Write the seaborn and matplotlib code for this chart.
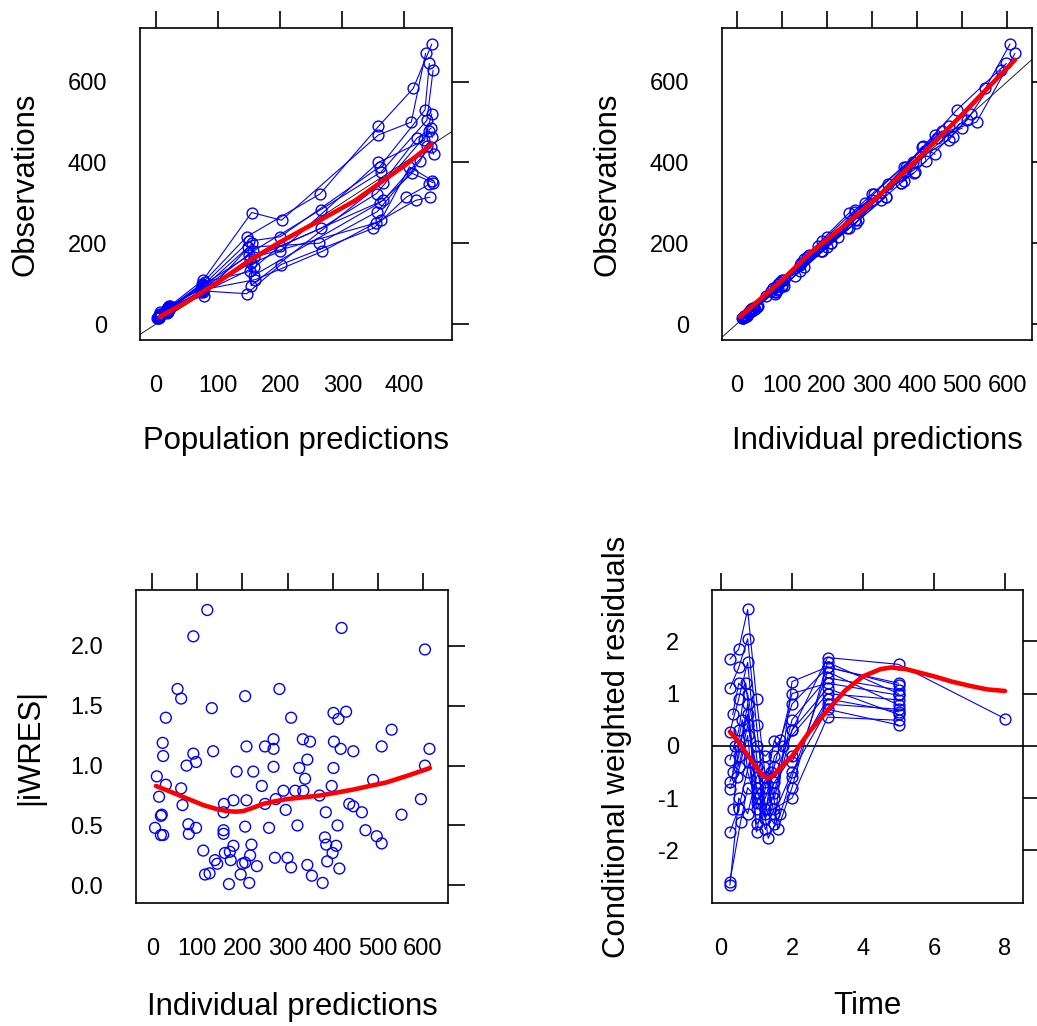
import numpy as np
import pandas as pd
import matplotlib
matplotlib.use("Agg")
import matplotlib.pyplot as plt
import seaborn as sns

# ---------------- data ----------------
# Panel 1 / 2 : per-subject population predictions, observations, individual predictions
PRED = [
    [3, 17, 74, 146, 264, 358, 414, 444],
    [5, 20, 76, 154, 202, 358, 411, 434],
    [4, 22, 75, 150, 200, 360, 433, 440],
    [6, 19, 77, 156, 265, 362, 436, 446],
    [2, 21, 73, 152, 266, 355, 440, 445],
    [5, 18, 75, 158, 199, 366, 442, 447],
    [7, 23, 78, 148, 263, 356, 425, 437],
    [4, 20, 76, 160, 268, 362, 408, 445],
    [6, 18, 74, 146, 201, 350, 403, 440],
    [5, 19, 75, 150, 157, 360, 412, 446],
    [3, 22, 77, 155, 153, 365, 420, 443],
    [8, 21, 72, 153, 200, 358, 432, 444],
    [4, 16, 79, 151, 157, 354, 418, 441],
]
DV = [
    [16, 36, 100, 216, 322, 489, 583, 693],
    [22, 42, 109, 276, 257, 468, 500, 670],
    [18, 40, 95, 205, 216, 389, 530, 645],
    [24, 30, 88, 180, 283, 376, 504, 628],
    [14, 38, 80, 160, 237, 323, 478, 462],
    [20, 28, 78, 140, 192, 306, 438, 420],
    [30, 45, 92, 190, 200, 278, 403, 440],
    [15, 33, 85, 110, 180, 257, 389, 355],
    [20, 36, 82, 75, 147, 237, 314, 346],
    [18, 34, 96, 170, 120, 300, 373, 350],
    [17, 40, 70, 200, 95, 350, 460, 485],
    [25, 44, 86, 150, 180, 400, 455, 520],
    [19, 32, 104, 130, 165, 250, 306, 314],
]
IPRED = [
    [13, 31, 92, 200, 300, 470, 551, 606],
    [20, 45, 100, 250, 262, 440, 532, 617],
    [16, 36, 100, 190, 225, 372, 488, 598],
    [26, 28, 80, 190, 262, 395, 510, 585],
    [12, 40, 86, 150, 245, 305, 455, 480],
    [22, 26, 84, 150, 180, 320, 410, 440],
    [27, 47, 86, 200, 210, 262, 420, 412],
    [14, 30, 90, 105, 190, 270, 375, 372],
    [19, 38, 76, 84, 140, 250, 330, 335],
    [16, 31, 100, 160, 130, 285, 392, 365],
    [18, 37, 66, 210, 104, 365, 445, 500],
    [26, 46, 92, 142, 186, 390, 470, 520],
    [17, 34, 95, 140, 155, 265, 300, 330],
]

# Panel 3 : |iWRES| vs individual predictions
IPRED3 = [122, 91, 420, 605, 56, 64, 206, 282, 132, 30, 308, 402, 413, 430, 23, 24,
          91, 76, 97, 135, 209, 250, 269, 269, 334, 350, 344, 326, 403, 418, 446, 509,
          531, 615, 605, 10, 30, 15, 64, 67, 21, 19, 6, 19, 24, 80, 81, 97, 159, 158,
          180, 209, 187, 224, 243, 269, 250, 274, 291, 296, 317, 335, 339, 371, 398,
          402, 385, 437, 446, 465, 490, 553, 596, 158, 158, 206, 259, 322, 411, 473,
          498, 509, 113, 139, 144, 117, 127, 172, 180, 161, 174, 200, 206, 217, 220,
          232, 196, 215, 170, 272, 300, 308, 344, 354, 378, 383, 386, 408, 400, 388, 415]
AIWRES3 = [2.30, 2.08, 2.15, 1.97, 1.64, 1.56, 1.58, 1.64, 1.48, 1.40, 1.40, 1.44, 1.39,
           1.45, 1.19, 1.08, 1.10, 1.00, 1.03, 1.12, 1.16, 1.16, 1.22, 1.14, 1.22, 1.20,
           1.05, 0.98, 1.20, 1.14, 1.12, 1.16, 1.30, 1.14, 1.00, 0.91, 0.84, 0.74, 0.81,
           0.67, 0.59, 0.58, 0.48, 0.42, 0.42, 0.51, 0.43, 0.48, 0.68, 0.61, 0.71, 0.71,
           0.95, 0.95, 0.83, 0.99, 0.68, 0.72, 0.79, 0.63, 0.79, 0.79, 0.89, 0.75, 0.83,
           0.98, 0.61, 0.68, 0.66, 0.61, 0.88, 0.59, 0.72, 0.46, 0.43, 0.49, 0.48, 0.50,
           0.50, 0.46, 0.41, 0.35, 0.29, 0.21, 0.18, 0.09, 0.10, 0.28, 0.33, 0.27, 0.21,
           0.18, 0.19, 0.25, 0.34, 0.16, 0.09, 0.02, 0.01, 0.23, 0.23, 0.15, 0.17, 0.08,
           0.02, 0.40, 0.34, 0.33, 0.27, 0.20, 0.14]

# Panel 4 : conditional weighted residuals vs time (per subject)
TIME = [
    [0.25, 0.5, 0.75, 1.0, 1.25, 1.5, 2.0, 3.0, 5.0, 8.0],
    [0.25, 0.5, 0.75, 1.0, 1.25, 1.5, 2.0, 3.0, 5.0],
    [0.25, 0.5, 0.75, 1.0, 1.33, 1.67, 2.0, 3.0, 5.0],
    [0.25, 0.5, 0.7, 1.0, 1.25, 1.5, 2.0, 3.0, 5.0],
    [0.25, 0.5, 0.75, 1.0, 1.25, 1.5, 2.0, 3.0, 5.0],
    [0.25, 0.45, 0.75, 1.0, 1.25, 1.5, 1.75, 3.0, 5.0],
    [0.25, 0.5, 0.8, 1.0, 1.25, 1.5, 2.0, 3.0, 5.0],
    [0.25, 0.55, 0.75, 1.0, 1.25, 1.5, 2.0, 3.0, 5.0],
    [0.25, 0.5, 0.75, 1.0, 1.2, 1.5, 2.0, 3.0, 5.0],
    [0.33, 0.5, 0.75, 1.0, 1.25, 1.67, 2.0, 3.0, 5.0],
    [0.33, 0.6, 0.75, 1.0, 1.25, 1.5, 2.0, 3.0, 5.0],
    [0.4, 0.5, 0.75, 1.0, 1.25, 1.5, 2.0, 3.0, 5.0],
    [0.35, 0.5, 0.75, 1.0, 1.4, 1.6, 2.0, 3.0, 5.0],
]
CWRES = [
    [1.66, 1.85, 2.61, 0.9, -0.6, -1.0, 0.3, 1.69, 1.56, 0.52],
    [1.10, 1.5, 2.05, 0.4, -1.2, -1.5, 1.23, 1.51, 1.16],
    [0.27, 0.9, 1.6, -0.2, -1.77, -1.3, -0.59, 1.42, 0.78],
    [-0.27, 0.3, 1.2, -0.8, -1.4, -0.9, 0.5, 1.3, 1.07],
    [-0.69, -0.2, 0.8, -1.2, -1.0, -0.4, 1.0, 1.2, 0.97],
    [-0.82, -0.6, 0.2, -1.5, -1.3, -0.2, 0.0, 1.0, 0.88],
    [-1.65, -1.2, -0.3, -1.65, -0.8, 0.1, -0.3, 0.9, 0.65],
    [-2.60, -1.46, -0.8, -1.0, -1.6, -1.2, -1.0, 0.55, 0.49],
    [-2.67, -1.0, -1.3, -0.6, -0.4, -1.3, -0.5, 0.7, 0.40],
    [0.6, 1.2, 1.0, 0.0, -0.2, 0.11, 0.8, 1.5, 1.2],
    [-0.5, 0.5, -0.5, -1.1, -0.7, -0.6, 0.3, 1.1, 0.6],
    [0.0, -0.4, 0.4, -0.4, -1.2, -0.7, -0.2, 0.8, 0.7],
    [-1.2, 0.0, 0.6, -0.9, -0.5, -1.6, -0.8, 1.6, 1.0],
]

# smooth (loess) curves
SM1_X = [6, 50, 100, 151, 200, 264, 320, 361, 400, 444]
SM1_Y = [18, 55, 104, 158, 203, 257, 305, 350, 392, 446]
SM2_X = [7, 100, 162, 230, 288, 350, 414, 460, 510, 560, 617]
SM2_Y = [18, 108, 175, 236, 290, 354, 423, 474, 530, 588, 654]
SM3_X = [8, 35, 61, 87, 113, 140, 165, 185, 202, 225, 246, 270, 298, 335, 372, 410, 446,
         483, 520, 570, 616]
SM3_Y = [0.83, 0.79, 0.75, 0.71, 0.67, 0.64, 0.62, 0.615, 0.62, 0.65, 0.68, 0.70, 0.72,
         0.735, 0.75, 0.775, 0.80, 0.83, 0.86, 0.92, 0.98]
SM4_X = [0.25, 0.5, 0.75, 1.0, 1.15, 1.3, 1.45, 1.6, 1.8, 2.0, 2.5, 3.0, 3.5, 4.0, 4.5,
         4.8, 5.2, 5.6, 6.0, 6.5, 7.0, 7.5, 8.0]
SM4_Y = [0.27, 0.07, -0.18, -0.42, -0.55, -0.62, -0.58, -0.47, -0.33, -0.2, 0.28, 0.68,
         1.06, 1.33, 1.47, 1.50, 1.47, 1.40, 1.33, 1.23, 1.15, 1.08, 1.05]

# ---------------- tidy frames ----------------
rows = []
for i, (p, d, ip) in enumerate(zip(PRED, DV, IPRED)):
    for a, b, c in zip(p, d, ip):
        rows.append((i, a, b, c))
df12 = pd.DataFrame(rows, columns=["id", "pred", "dv", "ipred"])
rows = []
for i, (t, c) in enumerate(zip(TIME, CWRES)):
    for a, b in zip(t, c):
        rows.append((i, a, b))
df4 = pd.DataFrame(rows, columns=["id", "time", "cwres"])
df3 = pd.DataFrame({"ipred": IPRED3, "aiwres": AIWRES3})

# ---------------- figure ----------------
sns.set_style("white")
plt.rcParams["font.family"] = ["Liberation Sans", "DejaVu Sans"]
plt.rcParams["axes.unicode_minus"] = False

W, H = 1037, 1026
fig = plt.figure(figsize=(W / 100, H / 100), dpi=100)
fig.patch.set_facecolor("white")

BLUE = "#0000FF"
RED = "#FF0000"


def add_ax(l, r, t, b):
    return fig.add_axes([l / W, 1 - b / H, (r - l) / W, (b - t) / H])


def style(ax, box, xlim, ylim, xt, yt, xl, yl, ylab_px, xlab_top_px, ytl=None):
    l, r, t, b = box
    ax.set_xlim(xlim)
    ax.set_ylim(ylim)
    ax.set_xticks(xt)
    ax.set_yticks(yt)
    if ytl is not None:
        ax.set_yticklabels(ytl)
    ax.set_facecolor("white")
    for s in ax.spines.values():
        s.set_visible(True)
        s.set_linewidth(1.2)
        s.set_color("black")
    ax.tick_params(axis="both", direction="out", length=12, width=1.2, color="black",
                   top=True, right=True, labeltop=False, labelright=False,
                   labelsize=17, labelcolor="black")
    ax.tick_params(axis="x", pad=13.5)
    ax.tick_params(axis="y", pad=11.5)
    ax.grid(False)
    ax.set_xlabel(xl, fontsize=22.4, color="black")
    ax.set_ylabel(yl, fontsize=22.4, color="black")
    ax.yaxis.set_label_coords((ylab_px - l) / (r - l), 0.5)
    ax.yaxis.label.set_va("center")
    ax.xaxis.set_label_coords(0.5, -(xlab_top_px - b) / (b - t))
    ax.xaxis.label.set_va("top")


line_kws = dict(color=BLUE, lw=0.8, marker="o", markersize=7.8, markerfacecolor="none",
                markeredgecolor=BLUE, markeredgewidth=1.0)

# Panel 1
b1 = (140, 451.7, 28.3, 340)
ax1 = add_ax(*b1)
ax1.axline((0, 0), (1, 1), color="black", lw=0.6, zorder=1)
sns.lineplot(data=df12, x="pred", y="dv", units="id", estimator=None, sort=False,
             ax=ax1, legend=False, **line_kws)
sns.lineplot(x=SM1_X, y=SM1_Y, estimator=None, sort=False, color=RED, lw=3.3, ax=ax1)
style(ax1, b1, (-25.8, 476), (-39.6, 732), [0, 100, 200, 300, 400], [0, 200, 400, 600],
      "Population predictions", "Observations", 26, 426.5)

# Panel 2
b2 = (721.7, 1032.3, 28.3, 340)
ax2 = add_ax(*b2)
ax2.axline((0, 0), (1, 1), color="black", lw=0.6, zorder=1)
sns.lineplot(data=df12, x="ipred", y="dv", units="id", estimator=None, sort=False,
             ax=ax2, legend=False, **line_kws)
sns.lineplot(x=SM2_X, y=SM2_Y, estimator=None, sort=False, color=RED, lw=3.3, ax=ax2)
style(ax2, b2, (-33.3, 655.4), (-39.6, 732), [0, 100, 200, 300, 400, 500, 600],
      [0, 200, 400, 600], "Individual predictions", "Observations", 607.5, 426.5)

# Panel 3
b3 = (136, 448.3, 590, 903)
ax3 = add_ax(*b3)
sns.scatterplot(data=df3, x="ipred", y="aiwres", ax=ax3, marker="o", s=61,
                facecolor="none", edgecolor=BLUE, linewidth=1.0, legend=False)
sns.lineplot(x=SM3_X, y=SM3_Y, estimator=None, sort=False, color=RED, lw=3.3, ax=ax3)
style(ax3, b3, (-36.2, 656.8), (-0.148, 2.467), [0, 100, 200, 300, 400, 500, 600],
      [0, 0.5, 1.0, 1.5, 2.0], "Individual predictions", "|iWRES|", 30, 991.5,
      ytl=["0.0", "0.5", "1.0", "1.5", "2.0"])

# Panel 4
b4 = (711.7, 1023.3, 590, 903)
ax4 = add_ax(*b4)
ax4.axhline(0, color="black", lw=1.2, zorder=1)
sns.lineplot(data=df4, x="time", y="cwres", units="id", estimator=None, sort=False,
             ax=ax4, legend=False, **line_kws)
sns.lineplot(x=SM4_X, y=SM4_Y, estimator=None, sort=False, color=RED, lw=3.3, ax=ax4)
style(ax4, b4, (-0.262, 8.515), (-3.008, 2.983), [0, 2, 4, 6, 8], [-2, -1, 0, 1, 2],
      "Time", "Conditional weighted residuals", 616.7, 991.5)

fig.savefig("out.png", dpi=100, facecolor="white")
